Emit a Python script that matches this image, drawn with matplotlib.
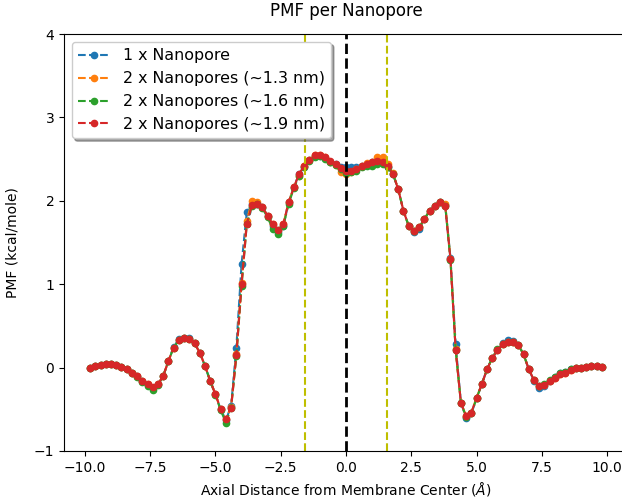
import matplotlib
matplotlib.use('Agg')
from matplotlib import pyplot as plt

# Axial positions (Angstrom), 0.2 A spacing
z = [-9.8, -9.6, -9.4, -9.2, -9.0, -8.8, -8.6, -8.4, -8.2, -8.0,
     -7.8, -7.6, -7.4, -7.2, -7.0, -6.8, -6.6, -6.4, -6.2, -6.0,
     -5.8, -5.6, -5.4, -5.2, -5.0, -4.8, -4.6, -4.4, -4.2, -4.0,
     -3.8, -3.6, -3.4, -3.2, -3.0, -2.8, -2.6, -2.4, -2.2, -2.0,
     -1.8, -1.6, -1.4, -1.2, -1.0, -0.8, -0.6, -0.4, -0.2, 0.0,
     0.2, 0.4, 0.6, 0.8, 1.0, 1.2, 1.4, 1.6, 1.8, 2.0,
     2.2, 2.4, 2.6, 2.8, 3.0, 3.2, 3.4, 3.6, 3.8, 4.0,
     4.2, 4.4, 4.6, 4.8, 5.0, 5.2, 5.4, 5.6, 5.8, 6.0,
     6.2, 6.4, 6.6, 6.8, 7.0, 7.2, 7.4, 7.6, 7.8, 8.0,
     8.2, 8.4, 8.6, 8.8, 9.0, 9.2, 9.4, 9.6, 9.8]

# PMF values (kcal/mole)
pmf_1 = [0.00, 0.02, 0.03, 0.04, 0.04, 0.03, 0.01, -0.02, -0.06, -0.10,
         -0.16, -0.21, -0.25, -0.20, -0.10, 0.08, 0.25, 0.34, 0.36, 0.35,
         0.29, 0.18, 0.02, -0.16, -0.32, -0.50, -0.63, -0.46, 0.24, 1.24,
         1.86, 1.96, 1.96, 1.92, 1.82, 1.70, 1.63, 1.70, 1.98, 2.16,
         2.32, 2.41, 2.49, 2.54, 2.54, 2.51, 2.47, 2.44, 2.41, 2.40,
         2.40, 2.41, 2.42, 2.44, 2.46, 2.48, 2.46, 2.40, 2.32, 2.14,
         1.88, 1.70, 1.62, 1.66, 1.78, 1.88, 1.94, 1.99, 1.95, 1.32,
         0.28, -0.42, -0.60, -0.55, -0.37, -0.20, -0.02, 0.11, 0.21, 0.29,
         0.33, 0.32, 0.27, 0.16, -0.02, -0.16, -0.24, -0.22, -0.16, -0.11,
         -0.07, -0.05, -0.02, -0.01, 0.00, 0.01, 0.02, 0.02, 0.01]

pmf_13 = [0.00, 0.02, 0.03, 0.04, 0.04, 0.03, 0.01, -0.02, -0.06, -0.10,
          -0.16, -0.20, -0.24, -0.20, -0.10, 0.08, 0.24, 0.33, 0.35, 0.34,
          0.29, 0.18, 0.02, -0.16, -0.32, -0.50, -0.62, -0.47, 0.16, 1.02,
          1.76, 2.00, 1.98, 1.92, 1.82, 1.72, 1.65, 1.72, 1.98, 2.16,
          2.30, 2.42, 2.49, 2.55, 2.55, 2.52, 2.47, 2.43, 2.34, 2.32,
          2.35, 2.38, 2.42, 2.45, 2.47, 2.52, 2.52, 2.44, 2.33, 2.14,
          1.88, 1.70, 1.64, 1.68, 1.78, 1.88, 1.94, 1.99, 1.96, 1.30,
          0.22, -0.42, -0.58, -0.54, -0.36, -0.20, -0.02, 0.11, 0.21, 0.28,
          0.31, 0.31, 0.27, 0.16, -0.02, -0.15, -0.22, -0.21, -0.16, -0.12,
          -0.08, -0.06, -0.03, -0.01, 0.00, 0.01, 0.02, 0.02, 0.01]

pmf_16 = [0.00, 0.02, 0.03, 0.04, 0.04, 0.03, 0.01, -0.02, -0.06, -0.11,
          -0.17, -0.22, -0.27, -0.21, -0.10, 0.08, 0.24, 0.33, 0.35, 0.34,
          0.29, 0.18, 0.02, -0.16, -0.33, -0.51, -0.66, -0.48, 0.14, 0.98,
          1.72, 1.94, 1.96, 1.91, 1.80, 1.66, 1.60, 1.70, 1.96, 2.15,
          2.30, 2.40, 2.48, 2.53, 2.54, 2.50, 2.47, 2.43, 2.38, 2.33,
          2.34, 2.36, 2.40, 2.42, 2.42, 2.44, 2.44, 2.40, 2.32, 2.14,
          1.88, 1.70, 1.64, 1.68, 1.78, 1.88, 1.94, 1.99, 1.94, 1.29,
          0.21, -0.42, -0.59, -0.55, -0.37, -0.20, -0.02, 0.12, 0.22, 0.28,
          0.31, 0.31, 0.27, 0.16, -0.02, -0.15, -0.22, -0.20, -0.15, -0.11,
          -0.07, -0.05, -0.02, -0.01, 0.00, 0.01, 0.02, 0.02, 0.01]

pmf_19 = [0.00, 0.02, 0.03, 0.04, 0.04, 0.03, 0.01, -0.02, -0.06, -0.10,
          -0.16, -0.20, -0.23, -0.20, -0.10, 0.08, 0.24, 0.33, 0.35, 0.34,
          0.29, 0.18, 0.02, -0.16, -0.32, -0.50, -0.62, -0.48, 0.15, 1.00,
          1.72, 1.95, 1.96, 1.92, 1.82, 1.72, 1.65, 1.72, 1.98, 2.16,
          2.32, 2.42, 2.49, 2.55, 2.55, 2.52, 2.48, 2.44, 2.39, 2.36,
          2.36, 2.38, 2.42, 2.44, 2.46, 2.48, 2.46, 2.42, 2.32, 2.14,
          1.88, 1.70, 1.64, 1.68, 1.78, 1.88, 1.94, 1.99, 1.94, 1.30,
          0.21, -0.42, -0.58, -0.54, -0.36, -0.20, -0.02, 0.11, 0.21, 0.28,
          0.31, 0.31, 0.27, 0.16, -0.02, -0.15, -0.22, -0.21, -0.16, -0.12,
          -0.08, -0.06, -0.03, -0.01, 0.00, 0.01, 0.02, 0.02, 0.01]

labels = ['1 x Nanopore', '2 x Nanopores (~1.3 nm)',
          '2 x Nanopores (~1.6 nm)', '2 x Nanopores (~1.9 nm)']
pore_edge = 1.58

fig = plt.figure(figsize=(6.22, 5.03), dpi=100)
# right spine sits just past the figure edge, as in the cropped original
ax = fig.add_axes([64 / 622, 52 / 503, 564 / 622, 417 / 503])

for y, lab in zip([pmf_1, pmf_13, pmf_16, pmf_19], labels):
    ax.plot(z, y, '.--', markersize=9, label=lab)

ax.axvline(0, color='k', linestyle='--', linewidth=2)
ax.axvline(-pore_edge, color='y', linestyle='--', linewidth=1.5)
ax.axvline(pore_edge, color='y', linestyle='--', linewidth=1.5)

ax.set_xlim(-10.8, 10.8)
ax.set_ylim(-1, 4)
ax.set_title('PMF per Nanopore', pad=13)
ax.set_xlabel(r'Axial Distance from Membrane Center ($\AA$)')
ax.set_ylabel('PMF (kcal/mole)', labelpad=10)
ax.legend(loc='upper left', shadow=True, fontsize=11.4)

fig.savefig('out.png', dpi=100)
